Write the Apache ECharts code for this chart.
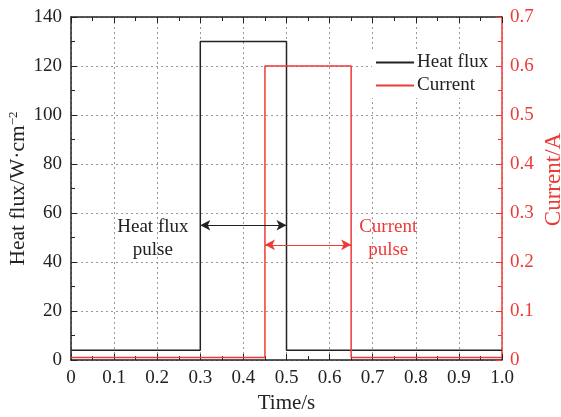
<!DOCTYPE html>
<html><head><meta charset="utf-8">
<script src="https://cdn.jsdelivr.net/npm/echarts@6/dist/echarts.min.js"></script>
<style>html,body{margin:0;padding:0;background:#fff}#c{width:561px;height:417px}</style>
</head><body><div id="c"></div>
<script>
const heatTime = [0, 0.3, 0.3, 0.5, 0.5, 1.0];
const heatFlux = [4, 4, 130, 130, 4, 4];
const curTime = [0, 0.45, 0.45, 0.65, 0.65, 1.0];
const current = [0.005, 0.005, 0.6, 0.6, 0.005, 0.005];
const xTicks = ['0','0.1','0.2','0.3','0.4','0.5','0.6','0.7','0.8','0.9','1.0'];
const heatPulse = [0.3, 0.5, 55];
const curPulse = [0.45, 0.65, 0.235];

const FONT = 'Liberation Serif';
const RED = '#ee3a36';
const BLK = '#222';
const chart = echarts.init(document.getElementById('c'));
const grid = {left: 71, right: 59, top: 17, bottom: 57, outerBoundsMode: 'none', containLabel: false};
const split = {show: true, lineStyle: {color: '#999', type: [2, 3], width: 1}};
chart.setOption({
  animation: false,
  textStyle: {fontFamily: FONT},
  grid: grid,
  legend: {
    data: ['Heat flux', 'Current'], orient: 'vertical', left: 372, top: 50,
    itemWidth: 38, itemHeight: 10, itemGap: 4, icon: 'path://M0,4 L38,4 L38,6 L0,6 Z',
    backgroundColor: '#fff', padding: [3, 6, 3, 4],
    textStyle: {fontFamily: FONT, fontSize: 19, color: BLK, padding: [0,0,0,-2]}
  },
  xAxis: [{
    type: 'value', min: 0, max: 1, interval: 0.1,
    name: 'Time/s', nameLocation: 'middle', nameGap: 33, nameMoveOverlap: false,
    nameTextStyle: {fontFamily: FONT, fontSize: 21, color: BLK},
    axisLine: {onZero: false, lineStyle: {color: BLK, width: 1.5}},
    axisTick: {inside: true, length: 6, lineStyle: {color: BLK}},
    minorTick: {show: true, splitNumber: 2, length: 4, lineStyle: {color: BLK}},
    axisLabel: {fontFamily: FONT, fontSize: 19, color: BLK, margin: 9,
      formatter: v => xTicks[Math.round(v * 10)]},
    splitLine: split
  }, {
    type: 'value', position: 'top', min: 0, max: 1, interval: 0.1,
    axisLine: {show: true, onZero: false, lineStyle: {color: BLK, width: 1.5}},
    axisTick: {show: true, inside: true, length: 6, lineStyle: {color: BLK}},
    minorTick: {show: true, splitNumber: 2, length: 4, lineStyle: {color: BLK}},
    axisLabel: {show: false}, splitLine: {show: false}
  }],
  yAxis: [{
    type: 'value', min: 0, max: 140, interval: 20, position: 'left',
    name: 'Heat flux/W·cm{s|−2}', nameLocation: 'middle', nameGap: 42, nameRotate: 90,
    nameMoveOverlap: false,
    nameTextStyle: {fontFamily: FONT, fontSize: 21.5, color: BLK,
      rich: {s: {fontFamily: FONT, fontSize: 13, color: BLK, verticalAlign: 'top', padding: [0, 0, 9, 0]}}},
    axisLine: {show: true, onZero: false, lineStyle: {color: BLK, width: 1.5}},
    axisTick: {show: true, inside: true, length: 6, lineStyle: {color: BLK}},
    minorTick: {show: true, splitNumber: 2, length: 4, lineStyle: {color: BLK}},
    axisLabel: {fontFamily: FONT, fontSize: 19, color: BLK, margin: 9},
    splitLine: split
  }, {
    type: 'value', min: 0, max: 0.7, interval: 0.1, position: 'right',
    name: 'Current/A', nameLocation: 'middle', nameGap: 40, nameRotate: 90,
    nameMoveOverlap: false,
    nameTextStyle: {fontFamily: FONT, fontSize: 23, color: RED, padding: [0, 0, 0, 18]},
    axisLine: {show: true, onZero: false, lineStyle: {color: RED, width: 1.5}},
    axisTick: {show: true, inside: true, length: 6, lineStyle: {color: RED}},
    minorTick: {show: true, splitNumber: 2, length: 4, lineStyle: {color: RED}},
    axisLabel: {fontFamily: FONT, fontSize: 19, color: RED, margin: 8,
      formatter: v => v === 0 ? '0' : v.toFixed(1)},
    splitLine: {show: false}
  }],
  series: [{
    name: 'Heat flux', type: 'line', xAxisIndex: 0, yAxisIndex: 0, symbol: 'none',
    lineStyle: {color: BLK, width: 1.5}, itemStyle: {color: BLK},
    data: heatTime.map((t, i) => [t, heatFlux[i]]),
    markLine: {
      silent: true, symbol: ['arrow', 'arrow'], symbolSize: [8, 10],
      lineStyle: {color: BLK, width: 1.2, type: 'solid'}, label: {show: false},
      data: [[{coord: [heatPulse[0], heatPulse[2]]}, {coord: [heatPulse[1], heatPulse[2]]}]]
    },
    markPoint: {
      symbol: 'circle', symbolSize: 0, silent: true,
      label: {show: true, formatter: 'Heat flux\npulse', fontFamily: FONT, fontSize: 19,
        color: BLK, lineHeight: 23, align: 'center', verticalAlign: 'middle', offset: [0, 0]},
      data: [{coord: [0.19, 49.6]}]
    }
  }, {
    name: 'Current', type: 'line', xAxisIndex: 0, yAxisIndex: 1, symbol: 'none',
    lineStyle: {color: RED, width: 1.5}, itemStyle: {color: RED}, z: 3,
    data: curTime.map((t, i) => [t, current[i]]),
    markLine: {
      silent: true, symbol: ['arrow', 'arrow'], symbolSize: [8, 10],
      lineStyle: {color: RED, width: 1.2, type: 'solid'}, label: {show: false},
      data: [[{coord: [curPulse[0], curPulse[2]]}, {coord: [curPulse[1], curPulse[2]]}]]
    },
    markPoint: {
      symbol: 'circle', symbolSize: 0, silent: true,
      label: {show: true, formatter: 'Current\npulse', fontFamily: FONT, fontSize: 19,
        color: RED, lineHeight: 23, align: 'center', verticalAlign: 'middle', offset: [0, 0]},
      data: [{coord: [0.736, 0.248]}]
    }
  }]
});
</script></body></html>
